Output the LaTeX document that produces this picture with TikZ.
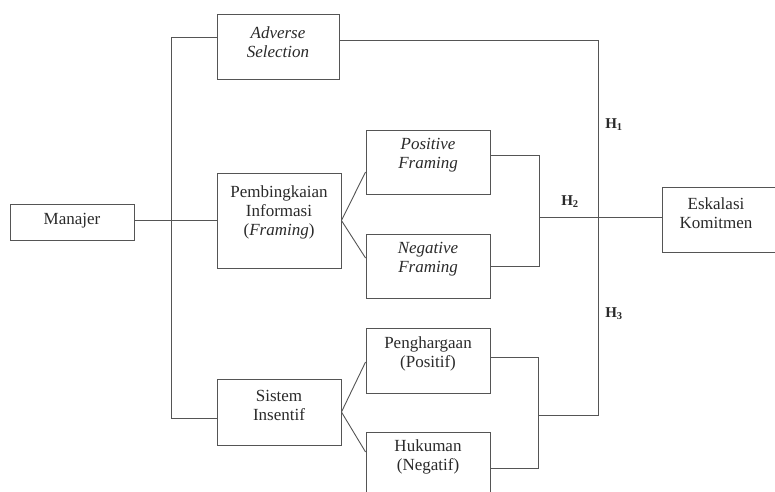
\documentclass[tikz,border=0pt]{standalone}
\usepackage{fontspec}
\setmainfont{Liberation Serif}
\usetikzlibrary{calc}
\definecolor{ln}{HTML}{555555}
\definecolor{tx}{HTML}{2A2A2A}
\tikzset{
  box/.style={draw=ln, line width=0.9pt, rectangle, inner sep=0pt},
  txt/.style={text=tx, align=center, font=\fontsize{17}{19}\selectfont, inner sep=0pt},
  hyp/.style={text=tx, font=\fontsize{15}{17}\selectfont\bfseries, inner sep=0pt},
  con/.style={draw=ln, line width=0.9pt}
}
\begin{document}
\begin{tikzpicture}[x=1pt,y=-1pt]
\useasboundingbox (0,0) rectangle (775,491);
\clip (0,0) rectangle (775,491);
\fill[white] (0,0) rectangle (775,491);
% boxes
\node[box, minimum width=124pt, minimum height=36pt] (man) at (72,222) {};
\node[box, minimum width=122pt, minimum height=65pt] (as) at (278,46.5) {};
\node[box, minimum width=124pt, minimum height=95pt] (pem) at (279,220.5) {};
\node[box, minimum width=124pt, minimum height=66pt] (si) at (279,412) {};
\node[box, minimum width=124pt, minimum height=64pt] (pf) at (428,162) {};
\node[box, minimum width=124pt, minimum height=64pt] (nf) at (428,266) {};
\node[box, minimum width=124pt, minimum height=65pt] (pen) at (428,360.5) {};
\node[box, minimum width=124pt, minimum height=65pt] (huk) at (428,464.5) {};
\node[box, minimum width=116pt, minimum height=65pt] (esk) at (720,219.5) {};
% texts
\node[txt] (mant) at (72,221) {Manajer};
\node[txt] (ast) at (278,42) {\itshape Adverse\\\itshape Selection};
\node[txt] (pemt) at (279,212) {Pembingkaian\\Informasi\\(\textit{Framing})};
\node[txt] (sit) at (279,405) {Sistem\\Insentif};
\node[txt] (pft) at (428,155) {\itshape Positive\\\itshape Framing};
\node[txt] (nft) at (428,259) {\itshape Negative\\\itshape Framing};
\node[txt] (pent) at (428,354) {Penghargaan\\(Positif)};
\node[txt] (hukt) at (428,457) {Hukuman\\(Negatif)};
\node[txt] (eskt) at (716,213) {Eskalasi\\Komitmen};
% hypothesis labels
\node[hyp] (h1) at (614,125) {H$_{\mathbf{1}}$};
\node[hyp] (h2) at (570,202) {H$_{\mathbf{2}}$};
\node[hyp] (h3) at (614,314) {H$_{\mathbf{3}}$};
% junction coordinates
\coordinate (vt) at (171,37);
\coordinate (vb) at (171,418);
\coordinate (rt) at (598,40);
\coordinate (rb) at (598,415);
\coordinate (ft) at (539,155);
\coordinate (fb) at (539,266);
\coordinate (fm) at (539,217);
\coordinate (it) at (538,357);
\coordinate (ib) at (538,468);
\coordinate (im) at (538,415);
% connectors
\draw[con] (man.east |- 0,220) -- (pem.west |- 0,220);
\draw[con] (as.west |- vt) -- (vt) -- (vb) -- (si.west |- vb);
\draw[con] (as.east |- rt) -- (rt) -- (rb) -- (im);
\draw[con] (pem.east) -- (pf.west |- 0,172);
\draw[con] (pem.east) -- (nf.west |- 0,258);
\draw[con] (si.east) -- (pen.west |- 0,362);
\draw[con] (si.east) -- (huk.west |- 0,452);
\draw[con] (pf.east |- ft) -- (ft) -- (fb) -- (nf.east |- fb);
\draw[con] (fm) -- (esk.west |- fm);
\draw[con] (pen.east |- it) -- (it) -- (ib) -- (huk.east |- ib);
\end{tikzpicture}
\end{document}
